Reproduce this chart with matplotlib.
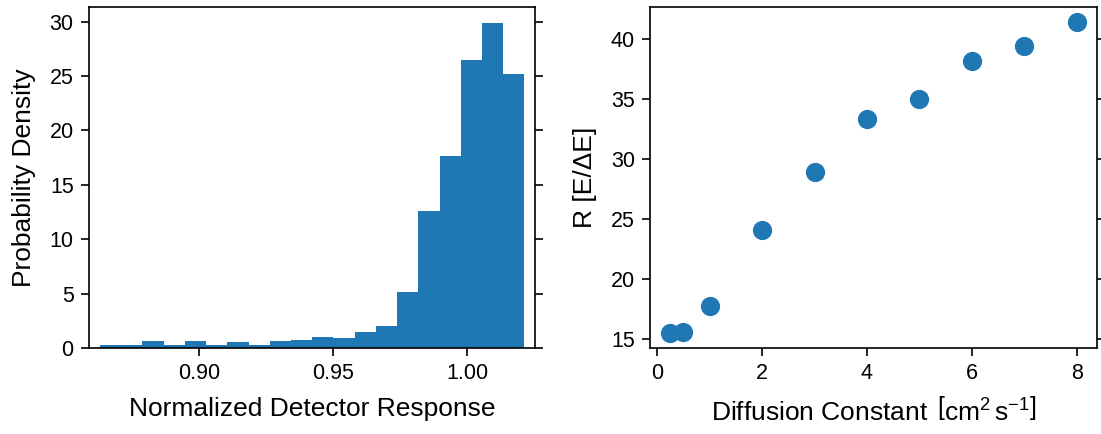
import numpy as np
import matplotlib.pyplot as plt

# histogram of normalized detector response (20 bins)
bin_lo = 0.863
bin_hi = 1.0214
density = [0.31, 0.31, 0.61, 0.31, 0.61, 0.31, 0.52, 0.31, 0.61, 0.70,
           0.98, 0.89, 1.47, 1.99, 5.12, 12.56, 17.62, 26.45, 29.85, 25.16]

# resolution vs diffusion constant
diffusion = [0.25, 0.5, 1, 2, 3, 4, 5, 6, 7, 8]
resolution = [15.52, 15.6, 17.69, 24.02, 28.93, 33.26, 35.0, 38.1, 39.34, 41.34]

plt.rcParams["font.family"] = ["Liberation Sans", "DejaVu Sans"]
plt.rcParams["mathtext.fontset"] = "custom"
plt.rcParams["mathtext.rm"] = "Liberation Sans"
plt.rcParams["mathtext.it"] = "Liberation Sans:italic"
plt.rcParams["xtick.labelsize"] = 15.5
plt.rcParams["ytick.labelsize"] = 15.5
plt.rcParams["axes.labelsize"] = 19


def style_axes(ax):
    ax.tick_params(axis="both", direction="out", length=6, width=1.2, pad=5)
    ax.tick_params(axis="y", left=True, right=True, labelleft=True, labelright=False)
    ax.tick_params(axis="x", top=False, bottom=True)
    for sp in ax.spines.values():
        sp.set_linewidth(1.2)


fig = plt.figure(figsize=(11.01, 4.34), dpi=100)
ax1 = fig.add_axes([0.0808, 0.198, 0.405, 0.786])
ax2 = fig.add_axes([0.5904, 0.198, 0.406, 0.786])

edges = np.linspace(bin_lo, bin_hi, len(density) + 1)
centers = 0.5 * (edges[:-1] + edges[1:])
ax1.hist(centers, bins=edges, weights=density, color="#1f77b4")
ax1.set_xlim(0.8589, 1.0253)
ax1.set_xticks([0.90, 0.95, 1.00])
ax1.set_yticks([0, 5, 10, 15, 20, 25, 30])
ax1.set_xlabel("Normalized Detector Response", labelpad=9)
ax1.set_ylabel("Probability Density", labelpad=10)
style_axes(ax1)

ax2.scatter(diffusion, resolution, s=165, color="#1f77b4", zorder=3)
ax2.set_xticks([0, 2, 4, 6, 8])
ax2.set_yticks([15, 20, 25, 30, 35, 40])
ax2.set_xlabel(r"Diffusion Constant $\,\left[\mathrm{cm}^2\,\mathrm{s}^{-1}\right]$", labelpad=9)
ax2.set_ylabel("R [E/ΔE]", labelpad=10)
style_axes(ax2)

fig.savefig("out.png", dpi=100)
